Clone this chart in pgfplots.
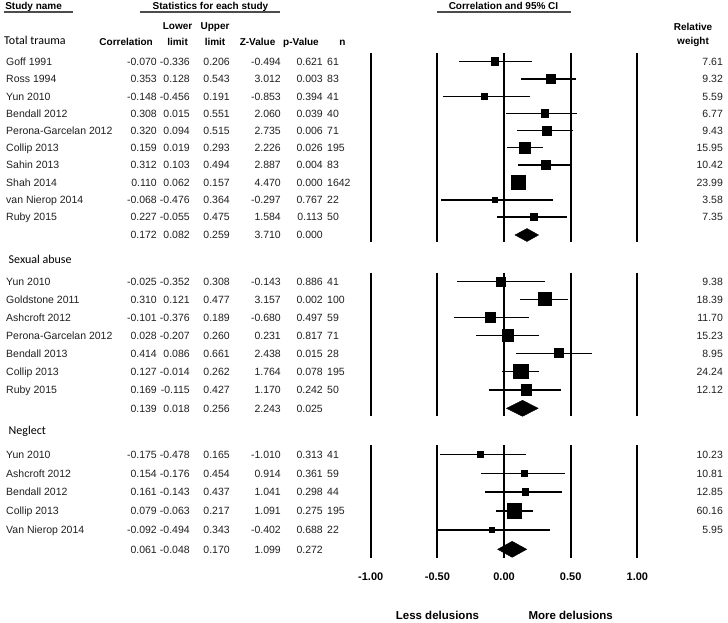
\documentclass[border=0pt]{standalone}
\usepackage{pgfplots}
\pgfplotsset{compat=1.18}
\usepackage{pgfplotstable}
\usepackage{fontspec}
\setmainfont{Liberation Sans}
\newfontfamily\calibri{Carlito}

\pgfplotstableread[col sep=comma]{
y,name,r,lo,hi,z,p,n,w,s
61.5,Goff 1991,-0.070,-0.336,0.206,-0.494,0.621,61,7.61,7.2
79,Ross 1994,0.353,0.128,0.543,3.012,0.003,83,9.32,8.8
96.3,Yun 2010,-0.148,-0.456,0.191,-0.853,0.394,41,5.59,6.6
113.5,Bendall 2012,0.308,0.015,0.551,2.060,0.039,40,6.77,7.2
130.7,Perona-Garcelan 2012,0.320,0.094,0.515,2.735,0.006,71,9.43,8.6
147.7,Collip 2013,0.159,0.019,0.293,2.226,0.026,195,15.95,11.2
165,Sahin 2013,0.312,0.103,0.494,2.887,0.004,83,10.42,9.1
182.3,Shah 2014,0.110,0.062,0.157,4.470,0.000,1642,23.99,13.7
200,van Nierop 2014,-0.068,-0.476,0.364,-0.297,0.767,22,3.58,5.4
217,Ruby 2015,0.227,-0.055,0.475,1.584,0.113,50,7.35,7.2
281.7,Yun 2010,-0.025,-0.352,0.308,-0.143,0.886,41,9.38,8.8
299.3,Goldstone 2011,0.310,0.121,0.477,3.157,0.002,100,18.39,13
317.7,Ashcroft 2012,-0.101,-0.376,0.189,-0.680,0.497,59,11.70,9.6
335.5,Perona-Garcelan 2012,0.028,-0.207,0.260,0.231,0.817,71,15.23,11.5
353.3,Bendall 2013,0.414,0.086,0.661,2.438,0.015,28,8.95,9
371.5,Collip 2013,0.127,-0.014,0.262,1.764,0.078,195,24.24,14.7
390,Ruby 2015,0.169,-0.115,0.427,1.170,0.242,50,12.12,10.3
454.3,Yun 2010,-0.175,-0.478,0.165,-1.010,0.313,41,10.23,6
473.3,Ashcroft 2012,0.154,-0.176,0.454,0.914,0.361,59,10.81,6
492,Bendall 2012,0.161,-0.143,0.437,1.041,0.298,44,12.85,6.2
511,Collip 2013,0.079,-0.063,0.217,1.091,0.275,195,60.16,14.7
530,Van Nierop 2014,-0.092,-0.494,0.343,-0.402,0.688,22,5.95,4.5
}\studies

\pgfplotstableread[col sep=comma]{
y,r,lo,hi,z,p
235,0.172,0.082,0.259,3.710,0.000
408.3,0.139,0.018,0.256,2.243,0.025
549.3,0.061,-0.048,0.170,1.099,0.272
}\pooled

\pgfplotsset{
  col/.style={draw=none, mark=none, point meta=explicit symbolic,
    nodes near coords={\pgfplotspointmeta},
    every node near coord/.style={anchor=#1, inner sep=0pt, text height=7.4pt,
      text depth=0pt, font=\fontsize{10.5}{12}\selectfont, text=black!88}},
}
\tikzset{
  hdr/.style={font=\bfseries\fontsize{10}{12}\selectfont, inner sep=0pt, text height=7.2pt, text depth=0pt},
  sect/.style={font=\calibri\fontsize{12}{14}\selectfont, inner sep=0pt, text height=7.6pt, text depth=0pt, anchor=west},
}

\begin{document}
\begin{tikzpicture}
\begin{axis}[
  scale only axis, width=728pt, height=622pt,
  xmin=-3.781, xmax=1.680,
  ymin=0, ymax=622, y dir=reverse,
  hide axis, clip=false,
]
\path (rel axis cs:0,0) rectangle (rel axis cs:1,1);

% reference lines
\pgfplotsinvokeforeach{-1,-0.5,0,0.5,1}{
  \draw[black, line width=1.8pt] (axis cs:#1,53.3) -- (axis cs:#1,242.3);
  \draw[black, line width=1.8pt] (axis cs:#1,272.7) -- (axis cs:#1,416.3);
  \draw[black, line width=1.8pt] (axis cs:#1,445.3) -- (axis cs:#1,558.3);
}

% confidence intervals
\addplot[black, only marks, mark=none,
  error bars/.cd, x dir=both, x explicit, error mark=none,
  error bar style={line width=1.4pt, black}]
  table[x=r, y=y, x error plus expr=\thisrow{hi}-\thisrow{r},
        x error minus expr=\thisrow{r}-\thisrow{lo}] \studies;

% squares (size from weight)
\addplot[scatter, only marks, mark=square*,
  scatter/use mapped color={draw=black, fill=black},
  visualization depends on={\thisrow{s}/2 \as \msz},
  scatter/@pre marker code/.append style={/tikz/mark size=\msz},
  mark options={line width=0pt}]
  table[x=r, y=y] \studies;

% pooled diamonds
\addplot[fill=black, draw=black, line width=0.4pt] coordinates {(0.082,235) (0.172,228.5) (0.259,235) (0.172,241.5)} --cycle;
\addplot[fill=black, draw=black, line width=0.4pt] coordinates {(0.018,408.3) (0.139,400.3) (0.256,408.3) (0.139,416.3)} --cycle;
\addplot[fill=black, draw=black, line width=0.4pt] coordinates {(-0.048,549.3) (0.061,541.3) (0.170,549.3) (0.061,557.3)} --cycle;

% text columns
\addplot[col=west] table[x expr=-3.736, y=y, meta=name] \studies;
\addplot[col=east] table[x expr=-2.603, y=y, meta=r] \studies;
\addplot[col=east] table[x expr=-2.356, y=y, meta=lo] \studies;
\addplot[col=east] table[x expr=-2.056, y=y, meta=hi] \studies;
\addplot[col=east] table[x expr=-1.673, y=y, meta=z] \studies;
\addplot[col=east] table[x expr=-1.358, y=y, meta=p] \studies;
\addplot[col=west] table[x expr=-1.328, y=y, meta=n] \studies;
\addplot[col=east] table[x expr=1.643, y=y, meta=w] \studies;

\addplot[col=east] table[x expr=-2.603, y=y, meta=r] \pooled;
\addplot[col=east] table[x expr=-2.356, y=y, meta=lo] \pooled;
\addplot[col=east] table[x expr=-2.056, y=y, meta=hi] \pooled;
\addplot[col=east] table[x expr=-1.673, y=y, meta=z] \pooled;
\addplot[col=east] table[x expr=-1.358, y=y, meta=p] \pooled;

% headers
\node[hdr, anchor=west] at (axis cs:-3.743,5.5) {Study name};
\node[hdr] at (axis cs:-2.202,5.5) {Statistics for each study};
\node[hdr] at (axis cs:-0.004,5.5) {Correlation and 95\% CI};
\draw[gray!60!black, line width=1.2pt] (axis cs:-3.751,12) -- (axis cs:-3.233,12);
\draw[gray!60!black, line width=1.2pt] (axis cs:-2.731,12) -- (axis cs:-1.680,12);
\draw[gray!60!black, line width=1.2pt] (axis cs:-0.500,12) -- (axis cs:0.500,12);

\node[hdr] at (axis cs:-2.449,26) {Lower};
\node[hdr] at (axis cs:-2.449,41.5) {limit};
\node[hdr] at (axis cs:-2.168,26) {Upper};
\node[hdr] at (axis cs:-2.168,41.5) {limit};
\node[hdr, anchor=east] at (axis cs:-2.633,41.5) {Correlation};
\node[hdr] at (axis cs:-1.849,41.5) {Z-Value};
\node[hdr] at (axis cs:-1.523,41.5) {p-Value};
\node[hdr] at (axis cs:-1.212,41.5) {n};
\node[hdr] at (axis cs:1.418,26.5) {Relative};
\node[hdr] at (axis cs:1.418,41) {weight};

\node[sect] at (axis cs:-3.751,40.7) {Total trauma};
\node[sect] at (axis cs:-3.717,260) {Sexual abuse};
\node[sect] at (axis cs:-3.717,431) {Neglect};

% tick labels
\pgfplotsinvokeforeach{-1.00,-0.50,0.00,0.50,1.00}{
  \node[font=\bfseries\fontsize{11}{13}\selectfont, inner sep=0pt, text height=7.9pt, text depth=0pt] at (axis cs:#1,576.7) {#1};
}
\node[font=\bfseries\fontsize{11.5}{13}\selectfont, inner sep=0pt, text height=8.2pt, text depth=0pt] at (axis cs:-0.5,615.5) {Less delusions};
\node[font=\bfseries\fontsize{11.5}{13}\selectfont, inner sep=0pt, text height=8.2pt, text depth=0pt] at (axis cs:0.5,615.5) {More delusions};
\end{axis}
\end{tikzpicture}
\end{document}
